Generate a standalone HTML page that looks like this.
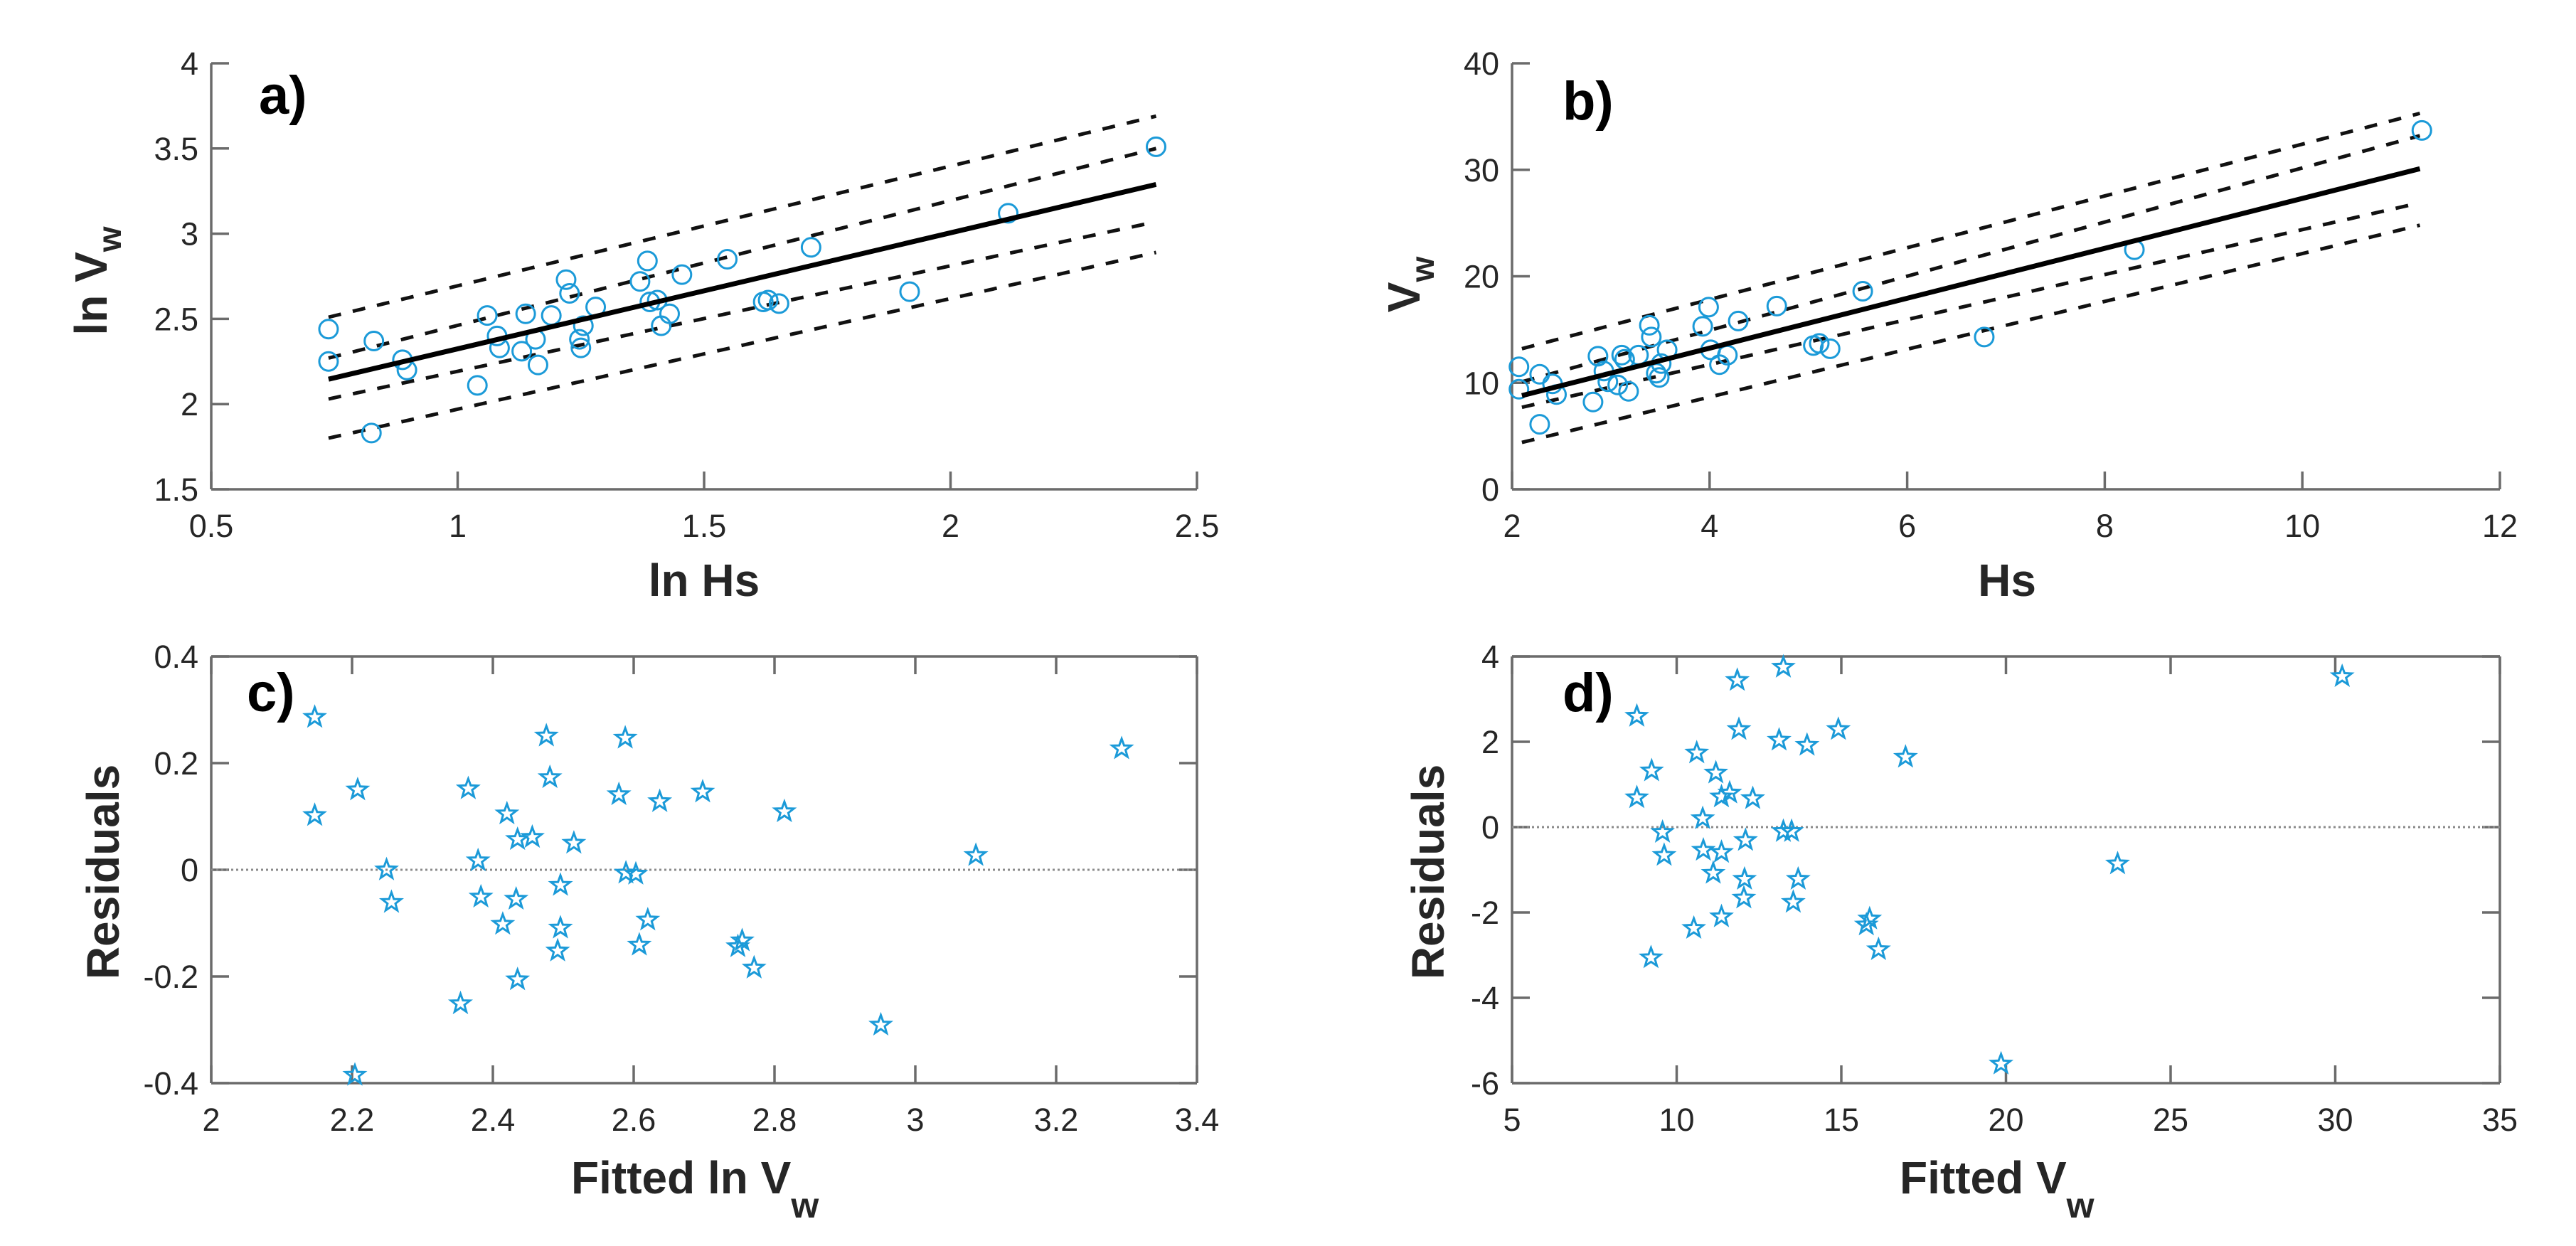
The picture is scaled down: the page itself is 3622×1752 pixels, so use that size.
<!DOCTYPE html>
<html><head><meta charset="utf-8"><style>
html,body{margin:0;padding:0;background:#fff;}
svg{display:block;font-family:"Liberation Sans",Arial,sans-serif;}
</style></head><body>
<svg id="fig" width="3622" height="1752" viewBox="0 0 3622 1752" xmlns="http://www.w3.org/2000/svg">
<rect width="3622" height="1752" fill="#fff"/>
</svg>
<script>
// Panel a data (ln Hs vs ln Vw)
const aX = [0.738,0.738,0.83,0.825,0.888,0.897,1.04,1.06,1.08,1.085,1.13,1.138,1.158,1.163,1.19,1.22,1.227,1.247,1.25,1.255,1.28,1.37,1.385,1.39,1.405,1.413,1.43,1.455,1.547,1.62,1.63,1.652,1.717,1.917,2.117,2.417];
const aY = [2.44,2.25,2.37,1.83,2.26,2.20,2.11,2.52,2.40,2.33,2.31,2.53,2.38,2.23,2.52,2.73,2.65,2.38,2.33,2.46,2.57,2.72,2.84,2.60,2.61,2.46,2.53,2.76,2.85,2.60,2.61,2.59,2.92,2.66,3.12,3.51];
const aLineX = [0.738,2.417];
const aFit = [2.146,3.289];
const aUpperOuter = [2.51,3.69];
const aUpperInner = [2.27,3.50];
const aLowerInner = [2.03,3.07];
const aLowerOuter = [1.80,2.89];
const aXTicks = [0.5,1,1.5,2,2.5];
const aYTicks = [1.5,2,2.5,3,3.5,4];

// Panel b data (Hs vs Vw)
const bX = [2.07,2.07,2.28,2.28,2.41,2.45,2.82,2.87,2.93,2.97,3.07,3.11,3.14,3.18,3.28,3.39,3.41,3.46,3.49,3.51,3.57,3.93,3.99,4.01,4.10,4.18,4.29,4.68,5.05,5.11,5.22,5.55,6.78,8.30,11.21];
const bY = [11.5,9.4,10.8,6.1,9.9,8.9,8.2,12.5,11.1,10.1,9.8,12.6,12.2,9.2,12.6,15.4,14.3,10.9,10.5,11.8,13.1,15.3,17.1,13.1,11.7,12.6,15.8,17.2,13.5,13.7,13.2,18.6,14.3,22.5,33.7];
const bLineX = [2.1,11.19];
const bFit = [8.8,30.1];
const bUpperOuter = [13.2,35.3];
const bUpperInner = [10.1,33.2];
const bLowerInner = [7.7,26.9];
const bLowerOuter = [4.4,24.8];
const bXTicks = [2,4,6,8,10,12];
const bYTicks = [0,10,20,30,40];

// Panel c data (fitted ln Vw vs residuals)
const cX = [2.147,2.147,2.208,2.204,2.249,2.256,2.354,2.365,2.379,2.383,2.414,2.42,2.433,2.435,2.435,2.456,2.476,2.481,2.492,2.496,2.496,2.515,2.579,2.588,2.589,2.603,2.608,2.62,2.637,2.698,2.748,2.754,2.771,2.814,2.951,3.086,3.293];
const cY = [0.286,0.102,0.150,-0.385,0.000,-0.061,-0.251,0.152,0.017,-0.051,-0.102,0.105,-0.055,-0.206,0.057,0.061,0.251,0.173,-0.152,-0.109,-0.029,0.050,0.141,0.247,-0.006,-0.008,-0.141,-0.094,0.128,0.146,-0.144,-0.133,-0.184,0.109,-0.291,0.027,0.227];
const cXTicks = [2,2.2,2.4,2.6,2.8,3,3.2,3.4];
const cYTicks = [-0.4,-0.2,0,0.2,0.4];

// Panel d data (fitted Vw vs residuals)
const dX = [8.79,8.79,9.24,9.22,9.57,9.62,10.52,10.61,10.79,10.81,11.11,11.19,11.36,11.36,11.36,11.61,11.84,11.89,12.04,12.06,12.09,12.31,13.11,13.24,13.24,13.49,13.54,13.69,13.96,14.91,15.76,15.86,16.13,16.95,19.85,23.39,30.21];
const dY = [2.60,0.69,1.32,-3.06,-0.12,-0.66,-2.37,1.74,0.20,-0.54,-1.08,1.27,-0.59,-2.10,0.71,0.80,3.44,2.29,-1.66,-1.22,-0.31,0.67,2.04,3.75,-0.10,-0.10,-1.76,-1.22,1.92,2.29,-2.29,-2.15,-2.87,1.64,-5.55,-0.86,3.53];
const dXTicks = [5,10,15,20,25,30,35];
const dYTicks = [-6,-4,-2,0,2,4];

const NS = "http://www.w3.org/2000/svg";
const svg = document.getElementById('fig');
const BLUE = "#1b9ad8";
function mk(tag, attrs, parent){
  const e = document.createElementNS(NS, tag);
  for (const k in attrs) e.setAttribute(k, attrs[k]);
  (parent||svg).appendChild(e);
  return e;
}
function lin(d0,d1,r0,r1){ return v => r0 + (v-d0)/(d1-d0)*(r1-r0); }
function fmt(v){ return (Math.round(v*10)/10).toString(); }

function panel(p){
  const g = mk('g', {});
  
  
  const sx = lin(p.xd[0], p.xd[1], p.L, p.R);
  const sy = lin(p.yd[0], p.yd[1], p.B, p.T);
  const ax = mk('g', {stroke:'#6b6b6b','stroke-width':3.5,fill:'none'}, g);
  
  
  mk('line',{x1:p.L,y1:p.B,x2:p.R,y2:p.B},ax);
  mk('line',{x1:p.L,y1:p.B,x2:p.L,y2:p.T},ax);
  if (p.box){ mk('line',{x1:p.L,y1:p.T,x2:p.R,y2:p.T},ax); mk('line',{x1:p.R,y1:p.B,x2:p.R,y2:p.T},ax); }
  const tl = 25;
  p.xt.forEach(v=>{
    const x = sx(v);
    mk('line',{x1:x,y1:p.B,x2:x,y2:p.B-tl},ax);
    if (p.box) mk('line',{x1:x,y1:p.T,x2:x,y2:p.T+tl},ax);
    const t = mk('text',{x:x,y:p.B+67,'text-anchor':'middle','font-size':45,fill:'#262626'},g);
    
    
    t.textContent = fmt(v);
  });
  p.yt.forEach(v=>{
    const y = sy(v);
    mk('line',{x1:p.L,y1:y,x2:p.L+tl,y2:y},ax);
    if (p.box) mk('line',{x1:p.R,y1:y,x2:p.R-tl,y2:y},ax);
    const t = mk('text',{x:p.L-18,y:y+16,'text-anchor':'end','font-size':45,fill:'#262626'},g);
    
    
    t.textContent = fmt(v);
  });
  if (p.zero){
    const z = mk('line',{x1:p.L,y1:sy(0),x2:p.R,y2:sy(0),stroke:'#8a8a8a','stroke-width':3,'stroke-dasharray':'3 4'},g);
    
    
  }
  if (p.lines){
    p.lines.dashed.forEach(arr=>{
      const l = mk('line',{x1:sx(p.lines.x[0]),y1:sy(arr[0]),x2:sx(p.lines.x[1]),y2:sy(arr[1]),stroke:'#111','stroke-width':5,'stroke-dasharray':'18 17'},g);
      
      
    });
  }
  p.px.forEach((xv,i)=>{
    const cx = sx(xv), cy = sy(p.py[i]);
    let m;
    if (p.marker==='circle'){
      m = mk('circle',{cx:cx,cy:cy,r:13,fill:'none',stroke:BLUE,'stroke-width':3},g);
    } else {
      let d='';
      for (let k=0;k<10;k++){
        const r = k%2===0?14:5.8;
        const a = -Math.PI/2 + k*Math.PI/5;
        d += (k?'L':'M') + (cx+r*Math.cos(a)).toFixed(1)+' '+(cy+r*Math.sin(a)).toFixed(1);
      }
      m = mk('path',{d:d+'Z',fill:'none',stroke:BLUE,'stroke-width':3,'stroke-linejoin':'miter'},g);
    }
    
    
  });
  if (p.lines){
    const f = mk('line',{x1:sx(p.lines.x[0]),y1:sy(p.lines.fit[0]),x2:sx(p.lines.x[1]),y2:sy(p.lines.fit[1]),stroke:'#000','stroke-width':7},g);
    
    
  }
  const lab = mk('text',{x:p.labX,y:p.labY,'font-size':76,'font-weight':'bold',fill:'#000'},g);
  
  
  lab.textContent = p.label;
  const xl = mk('text',{x:p.xlX,y:p.xlY,'text-anchor':p.xlAnchor,'font-size':64,'font-weight':'bold',fill:'#262626'},g);
  
  
  xl.innerHTML = p.xlab;
  const yl = mk('text',{x:0,y:0,'text-anchor':'middle','font-size':64,'font-weight':'bold',fill:'#262626',transform:`translate(${p.ylX},${p.ylY}) rotate(-90)`},g);
  
  
  yl.innerHTML = p.ylab;
}
const sub = '<tspan font-size="46" dy="20">w</tspan>';
panel({name:'panel-a',L:297,R:1683,T:89,B:688,xd:[0.5,2.5],yd:[1.5,4],xt:aXTicks,yt:aYTicks,px:aX,py:aY,marker:'circle',
  lines:{x:aLineX,fit:aFit,dashed:[aUpperOuter,aUpperInner,aLowerInner,aLowerOuter]},
  label:'a)',labX:364,labY:160,xlab:'ln Hs',xlX:990,xlY:838,xlAnchor:'middle',ylab:'ln V'+sub,ylX:150,ylY:395});
panel({name:'panel-b',L:2126,R:3515,T:89,B:688,xd:[2,12],yd:[0,40],xt:bXTicks,yt:bYTicks,px:bX,py:bY,marker:'circle',
  lines:{x:bLineX,fit:bFit,dashed:[bUpperOuter,bUpperInner,bLowerInner,bLowerOuter]},
  label:'b)',labX:2197,labY:168,xlab:'Hs',xlX:2822,xlY:838,xlAnchor:'middle',ylab:'V'+sub,ylX:1996,ylY:400});
panel({name:'panel-c',L:297,R:1683,T:923,B:1523,xd:[2,3.4],yd:[-0.4,0.4],xt:cXTicks,yt:cYTicks,px:cX,py:cY,marker:'star',box:true,zero:true,
  label:'c)',labX:347,labY:1000,xlab:'Fitted ln V<tspan font-size="50" dy="34">w</tspan>',xlX:803,xlY:1678,xlAnchor:'start',ylab:'Residuals',ylX:167,ylY:1226});
panel({name:'panel-d',L:2126,R:3515,T:923,B:1523,xd:[5,35],yd:[-6,4],xt:dXTicks,yt:dYTicks,px:dX,py:dY,marker:'star',box:true,zero:true,
  label:'d)',labX:2197,labY:1000,xlab:'Fitted V<tspan font-size="50" dy="34">w</tspan>',xlX:2671,xlY:1678,xlAnchor:'start',ylab:'Residuals',ylX:2030,ylY:1226});
</script>
</body></html>
